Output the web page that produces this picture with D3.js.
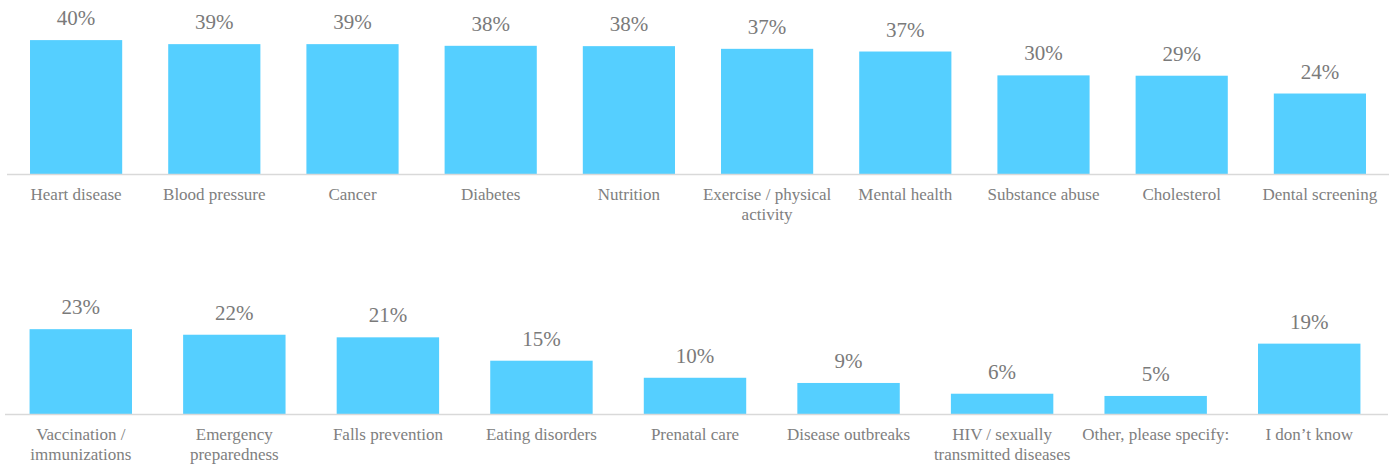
<!DOCTYPE html>
<html>
<head>
<meta charset="utf-8">
<script src="https://cdn.jsdelivr.net/npm/d3@7"></script>
<style>
  html, body { margin: 0; padding: 0; background: #ffffff; }
  svg { display: block; }
</style>
</head>
<body>
<svg id="chart" width="1391" height="466"></svg>
<script>
// ---- Data ----
const topCategories = ["Heart disease", "Blood pressure", "Cancer", "Diabetes", "Nutrition",
  "Exercise / physical activity", "Mental health", "Substance abuse", "Cholesterol", "Dental screening"];
const topValues = [40.0, 38.8, 38.8, 38.3, 38.2, 37.4, 36.6, 29.5, 29.4, 24.1];

const bottomCategories = ["Vaccination / immunizations", "Emergency preparedness", "Falls prevention",
  "Eating disorders", "Prenatal care", "Disease outbreaks", "HIV / sexually transmitted diseases",
  "Other, please specify:", "I don\u2019t know"];
const bottomValues = [23.0, 21.5, 20.8, 14.5, 9.9, 8.5, 5.6, 5.0, 19.1];

// ---- Drawing ----
const svg = d3.select("#chart");
const barColor = "#55cfff";
const textColor = "#808080";
const axisColor = "#d9d9d9";
const fontFamily = "'Liberation Serif', 'Times New Roman', serif";

function wrap(textSel, width) {
  textSel.each(function() {
    const text = d3.select(this);
    const words = text.text().split(/\s+/);
    const x = text.attr("x");
    const y = text.attr("y");
    text.text(null);
    let line = [];
    let tspan = text.append("tspan").attr("x", x).attr("y", y);
    words.forEach(w => {
      line.push(w);
      tspan.text(line.join(" "));
      if (tspan.node().getComputedTextLength() > width && line.length > 1) {
        line.pop();
        tspan.text(line.join(" "));
        line = [w];
        tspan = text.append("tspan").attr("x", x).attr("dy", 20).text(w);
      }
    });
  });
}

function panel(categories, values, opts) {
  const g = svg.append("g");
  const x = d3.scaleBand()
    .domain(categories)
    .range([opts.x0, opts.x1])
    .paddingInner(0.333)
    .paddingOuter(0.1665);
  const y = d3.scaleLinear()
    .domain([0, opts.vmax])
    .range([opts.base, opts.base - opts.pxPer * opts.vmax]);

  const data = categories.map((c, i) => ({ c, v: values[i] }));

  g.selectAll("rect.bar").data(data).join("rect")
    .attr("class", "bar")
    .attr("x", d => x(d.c))
    .attr("y", d => y(d.v))
    .attr("width", x.bandwidth())
    .attr("height", d => y(0) - y(d.v))
    .attr("fill", barColor);

  // axis baseline
  const axis = d3.axisBottom(x).tickSize(0).tickSizeOuter(0).tickFormat("");
  const ax = g.append("g").attr("transform", `translate(0,${opts.base})`).call(axis);
  ax.select(".domain").attr("stroke", axisColor).attr("stroke-width", 1.5)
    .attr("d", `M${opts.lineX0},0H${opts.lineX1}`);

  // value labels
  g.selectAll("text.val").data(data).join("text")
    .attr("class", "val")
    .attr("x", d => x(d.c) + x.bandwidth() / 2)
    .attr("y", d => y(d.v) - 15)
    .attr("text-anchor", "middle")
    .attr("font-family", fontFamily)
    .attr("font-size", 21)
    .attr("fill", "#7a7a7a")
    .text(d => Math.round(d.v) + "%");

  // category labels
  g.selectAll("text.cat").data(data).join("text")
    .attr("class", "cat")
    .attr("x", d => x(d.c) + x.bandwidth() / 2)
    .attr("y", opts.base + 25)
    .attr("text-anchor", "middle")
    .attr("font-family", fontFamily)
    .attr("font-size", 17)
    .attr("fill", textColor)
    .text(d => d.c)
    .call(wrap, x.step());
}

panel(topCategories, topValues, { x0: 7, x1: 1389, lineX0: 7, lineX1: 1389, base: 174.5, vmax: 40, pxPer: 3.36 });
panel(bottomCategories, bottomValues, { x0: 4, x1: 1386, lineX0: 5, lineX1: 1388, base: 414.5, vmax: 23, pxPer: 3.71 });
</script>
</body>
</html>
